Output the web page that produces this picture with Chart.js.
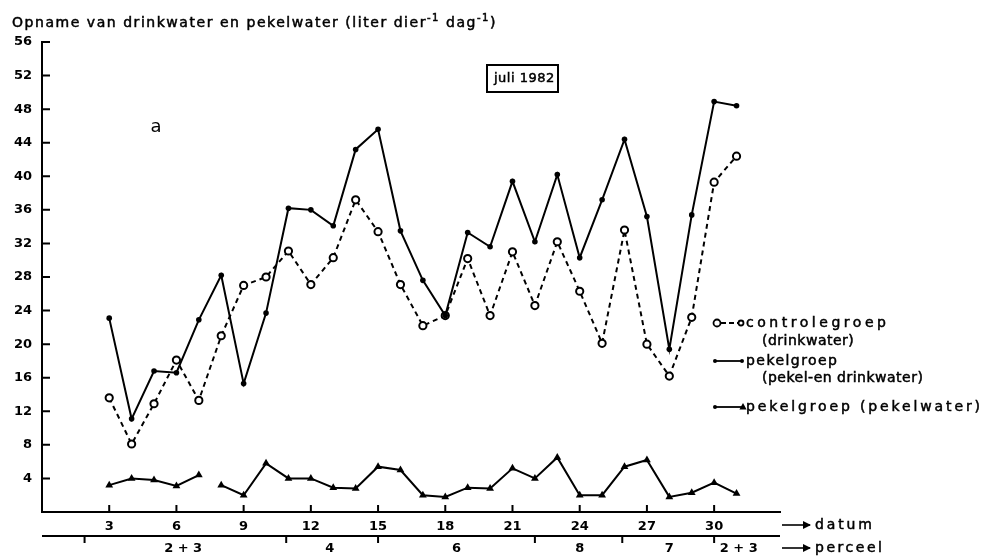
<!DOCTYPE html>
<html>
<head>
<meta charset="utf-8">
<script src="https://cdn.jsdelivr.net/npm/chart.js@4.4.1/dist/chart.umd.min.js"></script>
<style>
  body { margin: 0; background: #fff; }
  #wrap { width: 985px; height: 558px; position: relative; }
</style>
</head>
<body>
<div id="wrap"><canvas id="opname"></canvas></div>
<script>
// Opname drinkwater / pekelwater, juli 1982

var days = [3, 4, 5, 6, 7, 8, 9, 10, 11, 12, 13, 14, 15, 16, 17, 18, 19, 20, 21, 22, 23, 24, 25, 26, 27, 28, 29, 30, 31];
var controle = [13.6, 8.1, 12.9, 18.1, 13.3, 21.0, 27.0, 28.0, 31.1, 27.1, 30.3, 37.2, 33.4, 27.1, 22.2, 23.4, 30.2, 23.4, 31.0, 24.6, 32.2, 26.3, 20.1, 33.6, 20.0, 16.2, 23.2, 39.3, 42.4];
var pekelTotaal = [23.1, 11.1, 16.8, 16.6, 22.9, 28.2, 15.3, 23.7, 36.2, 36.0, 34.1, 43.2, 45.6, 33.5, 27.6, 23.4, 33.3, 31.6, 39.4, 32.2, 40.2, 30.3, 37.2, 44.4, 35.2, 19.4, 35.4, 48.9, 48.4];
var pekelwater = [3.2, 4.0, 3.8, 3.1, 4.4, 3.2, 2.0, 5.8, 4.0, 4.0, 2.9, 2.8, 5.4, 5.0, 2.0, 1.8, 2.9, 2.8, 5.2, 4.0, 6.5, 2.0, 2.0, 5.4, 6.2, 1.8, 2.3, 3.5, 2.2];

// perceel (plot) row under the date axis, in days
var perceelGrenzen = [1.9, 10.9, 15, 22, 25.9, 30];
var perceelNamen = ['2 + 3', '4', '6', '8', '7', '2 + 3'];
var perceelMidden = [6.3, 12.85, 18.5, 24, 28, 31.1];

var FONT = '"DejaVu Sans", sans-serif';

function pts(values) {
    return days.map(function (d, i) { return { x: d, y: values[i] }; });
}

// text with a little extra weight, like the old stencil lettering
function heavyText(ctx, text, x, y) {
    ctx.fillText(text, x, y);
    ctx.lineWidth = 0.5;
    ctx.strokeText(text, x, y);
}

// draw text stretched with letter spacing to a given width
function spaced(ctx, text, x, y, width, font) {
    ctx.font = font;
    ctx.letterSpacing = '0px';
    var w = ctx.measureText(text).width;
    var s = Math.max(0.5, (width - w) / Math.max(1, text.length - 1));
    ctx.letterSpacing = s + 'px';
    ctx.textAlign = 'left';
    ctx.textBaseline = 'middle';
    heavyText(ctx, text, x, y);
    ctx.letterSpacing = '0px';
}

function triangle(ctx, x, y, r) {
    ctx.beginPath();
    ctx.moveTo(x, y - r);
    ctx.lineTo(x + r * 0.9, y + r * 0.6);
    ctx.lineTo(x - r * 0.9, y + r * 0.6);
    ctx.closePath();
    ctx.fill();
}

function arrow(ctx, x1, x2, y) {
    ctx.beginPath();
    ctx.moveTo(x1, y);
    ctx.lineTo(x2, y);
    ctx.stroke();
    ctx.beginPath();
    ctx.moveTo(x2 + 1, y);
    ctx.lineTo(x2 - 7, y - 4);
    ctx.lineTo(x2 - 7, y + 4);
    ctx.closePath();
    ctx.fill();
}

var extras = {
    id: 'extras',
    afterDraw: function (chart) {
        var ctx = chart.ctx;
        var xs = chart.scales.x, ys = chart.scales.y;
        var area = chart.chartArea;
        ctx.save();
        ctx.fillStyle = '#000';
        ctx.strokeStyle = '#000';
        ctx.lineWidth = 2;

        // inward ticks
        ctx.beginPath();
        for (var v = 4; v <= 56; v += 4) {
            var py = ys.getPixelForValue(v);
            ctx.moveTo(area.left, py);
            ctx.lineTo(area.left + 8, py);
        }
        for (var d = 3; d <= 30; d += 3) {
            var px = xs.getPixelForValue(d);
            ctx.moveTo(px, area.bottom);
            ctx.lineTo(px, area.bottom - 7);
        }
        ctx.stroke();

        // title with superscripts
        var parts = [['Opname van drinkwater en pekelwater (liter dier', 0], ['-1', 1], [' dag', 0], ['-1', 1], [')', 0]];
        var nat = 0, n = 0;
        ctx.letterSpacing = '0px';
        parts.forEach(function (p) {
            ctx.font = p[1] ? '10px ' + FONT : '14px ' + FONT;
            nat += ctx.measureText(p[0]).width;
            n += p[0].length;
        });
        var sp = (485 - nat) / n;
        var tx = 12;
        ctx.textAlign = 'left';
        ctx.textBaseline = 'middle';
        parts.forEach(function (p) {
            ctx.font = p[1] ? '10px ' + FONT : '14px ' + FONT;
            ctx.letterSpacing = sp + 'px';
            heavyText(ctx, p[0], tx, p[1] ? 18 : 23);
            tx += ctx.measureText(p[0]).width;
        });
        ctx.letterSpacing = '0px';

        // juli 1982 box
        ctx.lineWidth = 2;
        ctx.strokeRect(487, 65, 71, 27);
        spaced(ctx, 'juli 1982', 494, 79, 55, '13px ' + FONT);

        // panel letter
        ctx.font = '18px ' + FONT;
        ctx.textAlign = 'center';
        ctx.textBaseline = 'middle';
        ctx.fillText('a', 156, 127);

        // legend
        ctx.lineWidth = 1.8;
        ctx.setLineDash([5, 3]);
        ctx.beginPath(); ctx.moveTo(721, 323); ctx.lineTo(738, 323); ctx.stroke();
        ctx.setLineDash([]);
        ctx.beginPath(); ctx.arc(717, 323, 3.5, 0, Math.PI * 2);
        ctx.fillStyle = '#fff'; ctx.fill(); ctx.stroke();
        ctx.beginPath(); ctx.arc(741, 323, 2.5, 0, Math.PI * 2); ctx.stroke();
        ctx.fillStyle = '#000';
        spaced(ctx, 'controlegroep', 746, 323, 140, '14px ' + FONT);
        spaced(ctx, '(drinkwater)', 762, 341, 90, '14px ' + FONT);

        ctx.lineWidth = 1.8;
        ctx.beginPath(); ctx.moveTo(715, 361); ctx.lineTo(742, 361); ctx.stroke();
        ctx.beginPath(); ctx.arc(715, 361, 2, 0, Math.PI * 2); ctx.fill();
        ctx.beginPath(); ctx.arc(742, 361, 2, 0, Math.PI * 2); ctx.fill();
        spaced(ctx, 'pekelgroep', 746, 361, 91, '14px ' + FONT);
        spaced(ctx, '(pekel-en drinkwater)', 762, 378, 150, '14px ' + FONT);

        ctx.lineWidth = 1.8;
        ctx.beginPath(); ctx.moveTo(715, 407); ctx.lineTo(742, 407); ctx.stroke();
        ctx.beginPath(); ctx.arc(715, 407, 2, 0, Math.PI * 2); ctx.fill();
        triangle(ctx, 743, 407, 4);
        spaced(ctx, 'pekelgroep (pekelwater)', 746, 407, 234, '14px ' + FONT);

        // perceel row
        var rowY = 536;
        ctx.lineWidth = 2;
        ctx.beginPath();
        ctx.moveTo(area.left, rowY);
        ctx.lineTo(area.right, rowY);
        perceelGrenzen.forEach(function (g) {
            var gx = xs.getPixelForValue(g);
            ctx.moveTo(gx, rowY);
            ctx.lineTo(gx, rowY + 7);
        });
        ctx.stroke();
        ctx.font = 'bold 13px ' + FONT;
        ctx.textAlign = 'center';
        ctx.textBaseline = 'middle';
        perceelNamen.forEach(function (name, i) {
            ctx.fillText(name, xs.getPixelForValue(perceelMidden[i]), 549);
        });

        // axis names with arrows
        ctx.lineWidth = 1.6;
        arrow(ctx, 782, 810, 525);
        arrow(ctx, 782, 810, 548);
        spaced(ctx, 'datum', 815, 525, 57, '14px ' + FONT);
        spaced(ctx, 'perceel', 815, 548, 67, '14px ' + FONT);

        ctx.restore();
    }
};

var ctx = document.getElementById('opname').getContext('2d');

var opnameChart = new Chart(ctx, {
    type: 'line',
    data: {
        datasets: [
            {
                label: 'pekelgroep (pekel- en drinkwater)',
                data: pts(pekelTotaal),
                borderColor: '#000',
                borderWidth: 2,
                pointStyle: 'circle',
                pointRadius: 2.8,
                pointBackgroundColor: '#000',
                pointBorderColor: '#000',
                pointBorderWidth: 0,
                tension: 0,
                order: 1
            },
            {
                label: 'controlegroep (drinkwater)',
                data: pts(controle),
                borderColor: '#000',
                borderWidth: 2,
                borderDash: [5, 4],
                pointStyle: 'circle',
                pointRadius: 3.6,
                pointBackgroundColor: '#fff',
                pointBorderColor: '#000',
                pointBorderWidth: 2,
                tension: 0,
                order: 2
            },
            {
                label: 'pekelgroep (pekelwater)',
                data: pts(pekelwater),
                borderColor: '#000',
                borderWidth: 2,
                pointStyle: 'triangle',
                pointRadius: 4.5,
                pointBackgroundColor: '#000',
                pointBorderColor: '#000',
                pointBorderWidth: 0,
                tension: 0,
                order: 3,
                segment: {
                    // no reading between day 7 and 8
                    borderColor: function (c) { return c.p0.parsed.x === 7 ? 'rgba(0,0,0,0)' : '#000'; }
                }
            }
        ]
    },
    options: {
        responsive: true,
        maintainAspectRatio: false,
        animation: false,
        layout: { padding: { left: 0, right: 205, top: 42, bottom: 0 } },
        plugins: {
            legend: { display: false },
            tooltip: { enabled: false }
        },
        scales: {
            x: {
                type: 'linear',
                min: 0,
                max: 32.94,
                afterFit: function (scale) { scale.height = 46; },
                grid: { display: true, drawOnChartArea: false, drawTicks: false },
                border: { display: true, color: '#000', width: 2 },
                ticks: {
                    stepSize: 3,
                    includeBounds: false,
                    padding: 7,
                    color: '#000',
                    font: { family: FONT, size: 13, weight: 'bold' },
                    callback: function (v) { return v === 0 ? '' : v; }
                }
            },
            y: {
                min: 0,
                max: 56,
                afterFit: function (scale) { scale.width = 42; },
                grid: { display: true, drawOnChartArea: false, drawTicks: false },
                border: { display: true, color: '#000', width: 2 },
                ticks: {
                    stepSize: 4,
                    padding: 10,
                    color: '#000',
                    font: { family: FONT, size: 13, weight: 'bold' },
                    callback: function (v) { return v === 0 ? '' : v; }
                }
            }
        }
    },
    plugins: [extras]
});
</script>
</body>
</html>
